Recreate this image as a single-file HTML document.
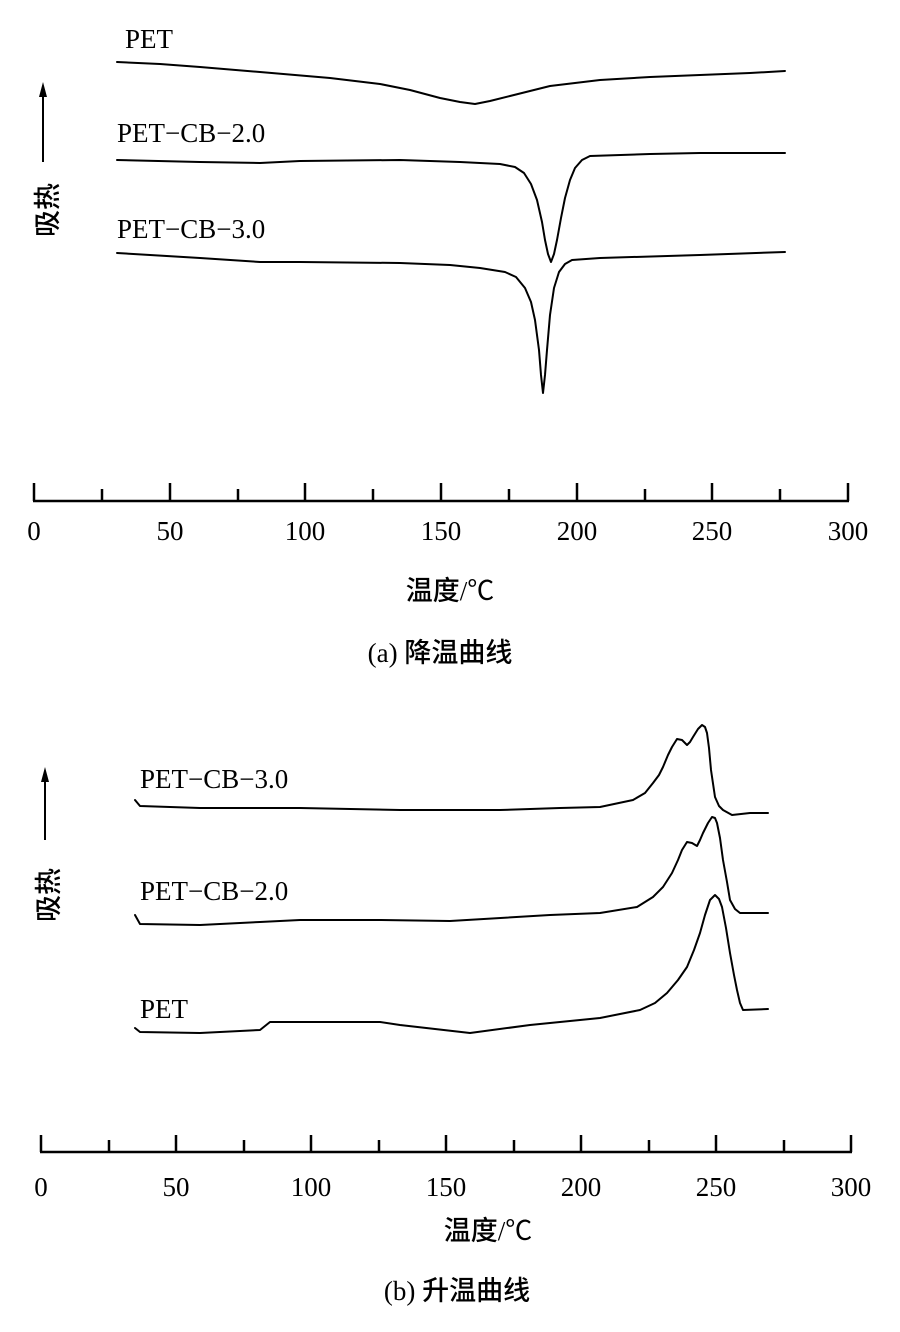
<!DOCTYPE html>
<html><head><meta charset="utf-8"><style>
html,body{margin:0;padding:0;background:#fff;}
svg{display:block;}
text{font-family:"Liberation Serif","Noto Sans CJK SC",serif;fill:#000;}
.cj{font-family:"Noto Sans CJK SC","WenQuanYi Zen Hei",sans-serif;font-weight:500;}
</style></head><body>
<svg width="900" height="1332" viewBox="0 0 900 1332" xmlns="http://www.w3.org/2000/svg">
<g fill="none" stroke="#000" stroke-width="2" stroke-linejoin="round" stroke-linecap="round">
<path d="M117,62 L160,64 L200,67 L260,72 L330,78 L380,84 L410,90 L440,98 L460,102 L475,104 L490,101 L510,96 L550,86 L600,80 L650,77 L700,75 L750,73 L785,71"/>
<path d="M117,160 L200,162 L260,163 L300,161 L400,160 L460,162 L500,164 L515,167 L524,173 L531,184 L537,200 L542,222 L545,240 L548,254 L551,262 L554,254 L557,240 L561,218 L565,198 L570,180 L575,168 L582,160 L590,156 L650,154 L700,153 L785,153"/>
<path d="M117,253 L200,258 L260,262 L300,262 L400,263 L450,265 L480,268 L505,272 L516,277 L525,288 L531,302 L535,320 L539,350 L541,375 L543,393 L545,375 L547,350 L550,315 L554,288 L559,272 L565,264 L572,260 L600,258 L700,255 L785,252"/>
<path d="M135,800 L140,806 L200,808 L300,808 L400,810 L500,810 L560,808 L600,807 L633,800 L645,793 L653,783 L659,775 L663,767 L668,755 L672,747 L677,739 L682,740 L687,745 L690,742 L693,737 L698,729 L702,725 L705,727 L707,733 L709,748 L711,770 L715,797 L719,806 L723,810 L732,815 L750,813 L768,813"/>
<path d="M135,915 L140,924 L200,925 L260,922 L300,920 L380,920 L450,921 L550,915 L600,913 L637,907 L653,897 L663,887 L672,873 L678,860 L682,850 L687,842 L692,843 L697,846 L700,840 L703,833 L708,823 L712,817 L715,818 L717,823 L720,838 L723,860 L727,882 L730,900 L735,909 L740,913 L768,913"/>
<path d="M135,1028 L140,1032 L200,1033 L260,1030 L270,1022 L300,1022 L380,1022 L400,1025 L470,1033 L530,1025 L600,1018 L640,1010 L655,1003 L667,993 L678,980 L687,967 L694,950 L700,933 L705,915 L710,900 L715,895 L719,899 L722,907 L726,928 L730,953 L734,975 L737,990 L740,1003 L743,1010 L768,1009"/>
</g>
<line x1="33" y1="501" x2="849" y2="501" stroke="#000" stroke-width="2.5"/>
<g stroke="#000" stroke-width="2.5">
<line x1="34" y1="483" x2="34" y2="501"/><line x1="102" y1="489" x2="102" y2="501"/>
<line x1="170" y1="483" x2="170" y2="501"/><line x1="238" y1="489" x2="238" y2="501"/>
<line x1="305" y1="483" x2="305" y2="501"/><line x1="373" y1="489" x2="373" y2="501"/>
<line x1="441" y1="483" x2="441" y2="501"/><line x1="509" y1="489" x2="509" y2="501"/>
<line x1="577" y1="483" x2="577" y2="501"/><line x1="645" y1="489" x2="645" y2="501"/>
<line x1="712" y1="483" x2="712" y2="501"/><line x1="780" y1="489" x2="780" y2="501"/>
<line x1="848" y1="483" x2="848" y2="501"/>
</g>
<g font-size="27" text-anchor="middle">
<text x="34" y="540">0</text><text x="170" y="540">50</text><text x="305" y="540">100</text>
<text x="441" y="540">150</text><text x="577" y="540">200</text><text x="712" y="540">250</text><text x="848" y="540">300</text>
<text x="450" y="600"><tspan class="cj">温度</tspan>/℃</text>
<text x="440" y="662">(a) <tspan class="cj">降温曲线</tspan></text>
</g>
<g font-size="27">
<text x="125" y="48">PET</text>
<text x="117" y="142">PET−CB−2.0</text>
<text x="117" y="238">PET−CB−3.0</text>
<text x="140" y="788">PET−CB−3.0</text>
<text x="140" y="900">PET−CB−2.0</text>
<text x="140" y="1018">PET</text>
</g>
<line x1="43" y1="95" x2="43" y2="162" stroke="#000" stroke-width="2"/>
<polygon points="43,82 39,97 47,97" fill="#000"/>
<text class="cj" font-size="27" transform="translate(57,210) rotate(-90)" text-anchor="middle">吸热</text>
<line x1="45" y1="780" x2="45" y2="840" stroke="#000" stroke-width="2"/>
<polygon points="45,767 41,782 49,782" fill="#000"/>
<text class="cj" font-size="27" transform="translate(58,895) rotate(-90)" text-anchor="middle">吸热</text>
<line x1="40" y1="1152" x2="852" y2="1152" stroke="#000" stroke-width="2.5"/>
<g stroke="#000" stroke-width="2.5">
<line x1="41" y1="1135" x2="41" y2="1152"/><line x1="109" y1="1140" x2="109" y2="1152"/>
<line x1="176" y1="1135" x2="176" y2="1152"/><line x1="244" y1="1140" x2="244" y2="1152"/>
<line x1="311" y1="1135" x2="311" y2="1152"/><line x1="379" y1="1140" x2="379" y2="1152"/>
<line x1="446" y1="1135" x2="446" y2="1152"/><line x1="514" y1="1140" x2="514" y2="1152"/>
<line x1="581" y1="1135" x2="581" y2="1152"/><line x1="649" y1="1140" x2="649" y2="1152"/>
<line x1="716" y1="1135" x2="716" y2="1152"/><line x1="784" y1="1140" x2="784" y2="1152"/>
<line x1="851" y1="1135" x2="851" y2="1152"/>
</g>
<g font-size="27" text-anchor="middle">
<text x="41" y="1196">0</text><text x="176" y="1196">50</text><text x="311" y="1196">100</text>
<text x="446" y="1196">150</text><text x="581" y="1196">200</text><text x="716" y="1196">250</text><text x="851" y="1196">300</text>
<text x="488" y="1240"><tspan class="cj">温度</tspan>/℃</text>
<text x="457" y="1300">(b) <tspan class="cj">升温曲线</tspan></text>
</g>
</svg>
</body></html>
